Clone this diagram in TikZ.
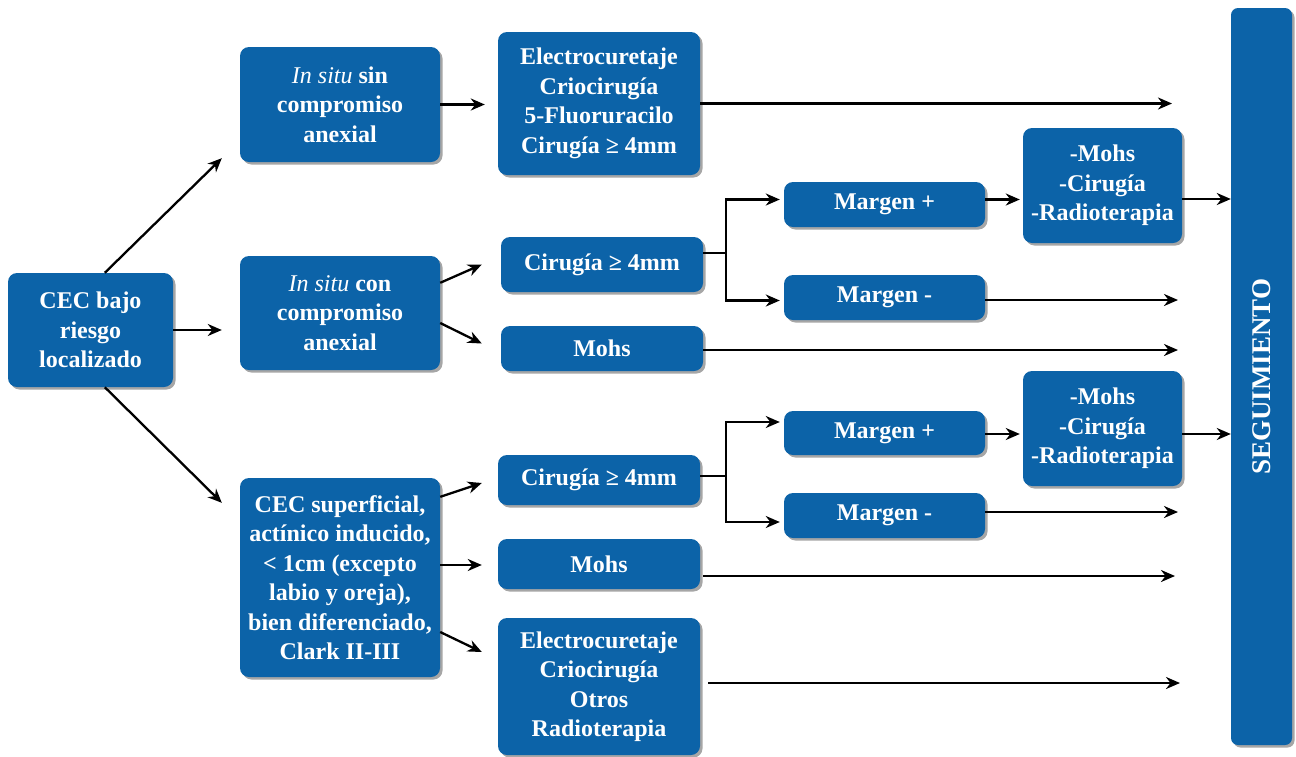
\documentclass[tikz,border=0pt]{standalone}
\usepackage{fontspec}
\setmainfont{Liberation Serif}
\usetikzlibrary{arrows.meta,shadows,calc}
\definecolor{boxblue}{RGB}{12,99,168}
\begin{document}
\begin{tikzpicture}[x=1pt,y=-1pt,
  box/.style={fill=boxblue, rounded corners=9pt, text=white,
    font=\bfseries\fontsize{24}{29.5}\selectfont, align=center, inner sep=0pt,
    drop shadow={shadow xshift=2.5pt, shadow yshift=-2.5pt, fill=black, opacity=0.35}},
  arr/.style={line width=2.3pt, -{Stealth[length=14pt,width=12pt,inset=4.5pt]}},
  ln/.style={line width=2.3pt}]
\useasboundingbox (0,0) rectangle (1296,756);

% boxes
\node[box, minimum width=165, minimum height=114] (b1) at (90.5,330) {CEC bajo\\riesgo\\localizado};
\node[box, minimum width=200, minimum height=115] (b2) at (340,104.5) {{\mdseries\itshape In situ} sin\\compromiso\\anexial};
\node[box, minimum width=200, minimum height=114] (b3) at (340,313) {{\mdseries\itshape In situ} con\\compromiso\\anexial};
\node[box, minimum width=200, minimum height=199] (b4) at (340,577.5) {CEC superficial,\\actínico inducido,\\< 1cm (excepto\\labio y oreja),\\bien diferenciado,\\Clark II-III};
\node[box, minimum width=202, minimum height=143] (e1) at (599,103.5) {Electrocuretaje\\Criocirugía\\5-Fluoruracilo\\Cirugía ≥ 4mm};
\node[box, minimum width=202, minimum height=55] (c1) at (602,264.5) {Cirugía ≥ 4mm};
\node[box, minimum width=202, minimum height=45] (m1) at (602,348.5) {Mohs};
\node[box, minimum width=201, minimum height=45] (mp1) at (884.5,204.5) {Margen +};
\node[box, minimum width=201, minimum height=45] (mm1) at (884.5,297.5) {Margen -};
\node[box, minimum width=159, minimum height=115] (r1) at (1102.5,185.5) {-Mohs\\-Cirugía\\-Radioterapia};
\node[box, minimum width=202, minimum height=50] (c2) at (599,480) {Cirugía ≥ 4mm};
\node[box, minimum width=202, minimum height=50] (m2) at (599,564) {Mohs};
\node[box, minimum width=202, minimum height=137] (e2) at (599,686.5) {Electrocuretaje\\Criocirugía\\Otros\\Radioterapia};
\node[box, minimum width=201, minimum height=44] (mp2) at (884.5,433) {Margen +};
\node[box, minimum width=201, minimum height=45] (mm2) at (884.5,515.5) {Margen -};
\node[box, minimum width=159, minimum height=115] (r2) at (1102.5,428.5) {-Mohs\\-Cirugía\\-Radioterapia};
\node[box, rounded corners=7pt, minimum width=61, minimum height=737] (seg) at (1261.5,376.5) {};
\node[rotate=90, text=white, font=\bfseries\fontsize{27}{30}\selectfont, inner sep=0pt] (segt) at (seg.center) {SEGUIMIENTO};

% free ends
\coordinate (f1) at (1172,103.5);
\coordinate (f2) at (1178,300);
\coordinate (f3) at (1178,350);
\coordinate (f4) at (1178,512);
\coordinate (f5) at (1175,576);
\coordinate (f6) at (1180,683);
\coordinate (j1) at (726,253);
\coordinate (j2) at (726,476);

% connectors
\draw[arr] ($(b1.north west)+(97,0)$) -- ($(b2.south west)+(-18,-4)$);
\draw[arr] (b1.east) -- ($(b3.west)+(-18,17)$);
\draw[arr] ($(b1.south west)+(97,0)$) -- ($(b4.north west)+(-18,25)$);

\draw[arr] (b2.east) -- ($(b2.east -| e1.west)+(-13,0)$);
\draw[arr] (e1.east) -- (f1);

\draw[arr] ($(b3.north east)+(0,27)$) -- ($(c1.west)+(-19,0)$);
\draw[arr] ($(b3.east)+(0,10)$) -- ($(m1.west)+(-19,-5)$);
\draw[ln] (c1.east |- j1) -- (j1);
\draw[arr] (j1) |- ($(mp1.west)+(-4,-5)$);
\draw[arr] (j1) |- ($(mm1.west)+(-4,3)$);
\draw[arr] ($(mp1.east)+(0,-5)$) -- ($(r1.west |- mp1.east)+(-3,-5)$);
\draw[arr] ($(r1.east)+(0,13.5)$) -- ($(seg.west |- r1.east)+(0,13.5)$);
\draw[arr] ($(mm1.east)+(0,2.5)$) -- (f2);
\draw[arr] ($(m1.east)+(0,1.5)$) -- (f3);

\draw[arr] ($(b4.north east)+(0,19)$) -- ($(c2.west)+(-16,3)$);
\draw[arr] ($(b4.east)+(0,-12.5)$) -- ($(m2.west)+(-16,1)$);
\draw[arr] ($(b4.east)+(0,54.5)$) -- ($(e2.west)+(-16,-34.5)$);
\draw[ln] (c2.east |- j2) -- (j2);
\draw[arr] (j2) |- ($(mp2.west)+(-4,-11)$);
\draw[arr] (j2) |- ($(mm2.west)+(-4,6.5)$);
\draw[arr] ($(mp2.east)+(0,1)$) -- ($(r2.west |- mp2.east)+(-3,1)$);
\draw[arr] ($(r2.east)+(0,5.5)$) -- ($(seg.west |- r2.east)+(0,5.5)$);
\draw[arr] ($(mm2.east)+(0,-3.5)$) -- (f4);
\draw[arr] ($(m2.east)+(3,12)$) -- (f5);
\draw[arr] ($(e2.east)+(8,-3.5)$) -- (f6);
\end{tikzpicture}
\end{document}
